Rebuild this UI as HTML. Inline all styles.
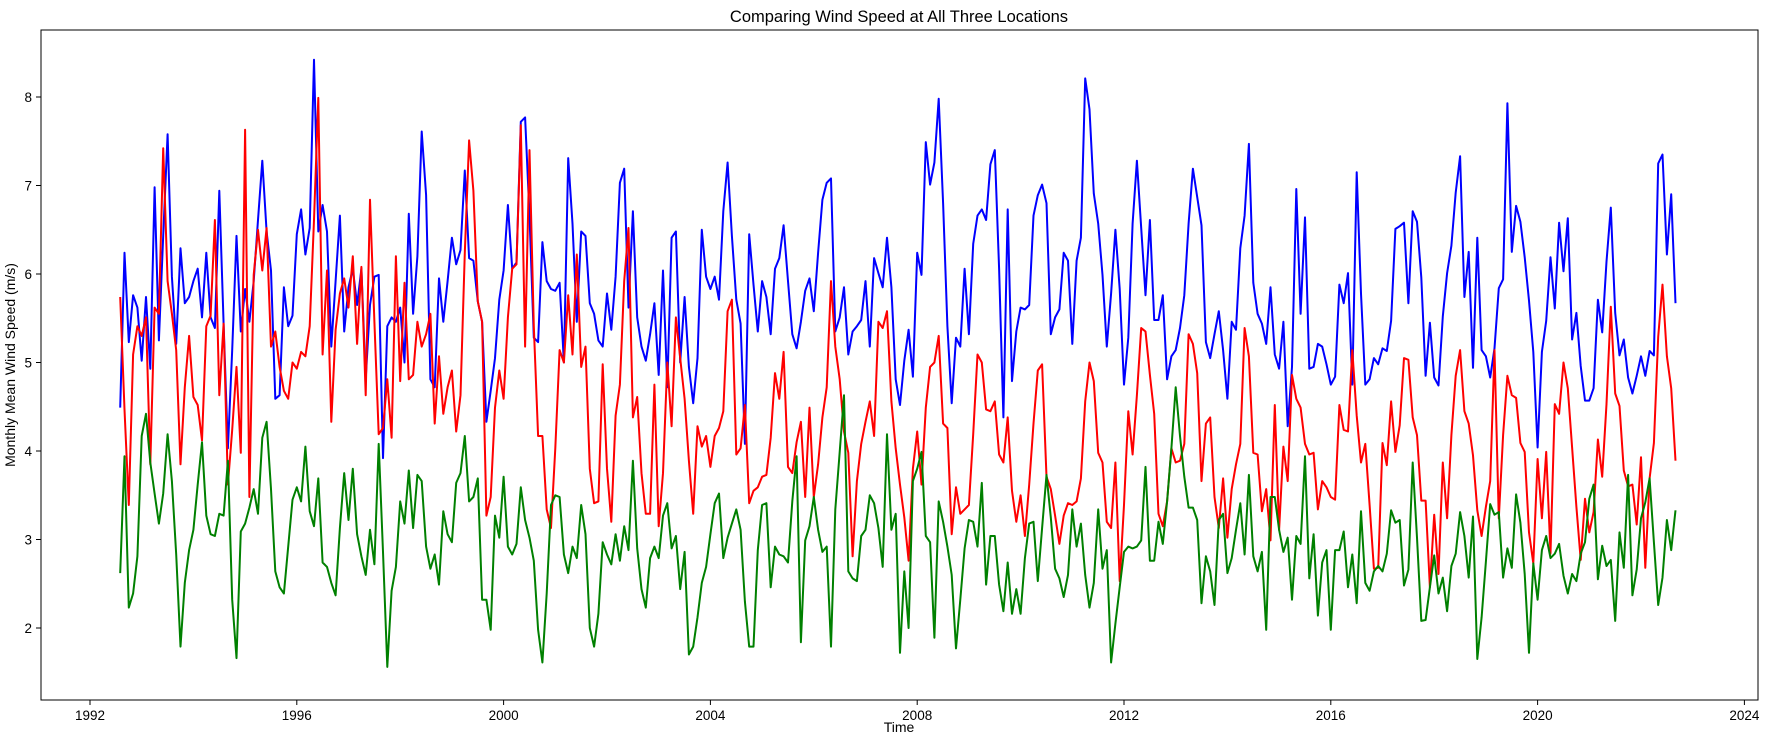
<!DOCTYPE html>
<html><head><meta charset="utf-8"><style>
html,body{margin:0;padding:0;background:#fff;}
svg{display:block;font-family:"Liberation Sans","DejaVu Sans",sans-serif;}
</style></head><body>
<svg id="chart" width="1774" height="743" viewBox="0 0 1774 743" xmlns="http://www.w3.org/2000/svg">
<rect x="0" y="0" width="1774" height="743" fill="#fff"/>
<text x="899" y="22" text-anchor="middle" font-size="16.5" fill="#000">Comparing Wind Speed at All Three Locations</text>
<text x="899" y="732" text-anchor="middle" font-size="14" fill="#000">Time</text>
<text transform="translate(15,365) rotate(-90)" text-anchor="middle" font-size="14" fill="#000">Monthly Mean Wind Speed (m/s)</text>
<g id="xticks"></g>
<g id="yticks"></g>
<g id="series"></g>
<rect x="41" y="30" width="1717" height="670" fill="none" stroke="#000" stroke-width="1"/>
</svg>
<script>
const startYear = 1992 + 7/12;
const xTickLabels = [1992,1996,2000,2004,2008,2012,2016,2020,2024];
const yTickLabels = [2,3,4,5,6,7,8];
const blueValues = [4.49,6.24,5.23,5.76,5.62,5.02,5.74,4.93,6.98,5.25,6.43,7.58,5.97,5.21,6.29,5.67,5.74,5.92,6.06,5.51,6.24,5.51,5.39,6.94,5.44,4.03,5.14,6.43,5.35,5.83,5.46,5.92,6.61,7.28,6.48,6.04,4.59,4.63,5.85,5.41,5.53,6.45,6.73,6.22,6.52,8.42,6.48,6.78,6.48,5.18,5.92,6.66,5.35,5.85,6.06,5.65,6.06,4.81,5.65,5.97,5.99,3.92,5.41,5.51,5.46,5.62,5.00,6.68,5.55,6.20,7.61,6.89,4.81,
4.72,5.95,5.46,5.92,6.41,6.11,6.27,7.17,6.18,6.15,5.69,5.46,4.33,4.68,5.05,5.71,6.04,6.78,6.06,6.13,7.72,7.77,6.66,5.28,5.23,6.36,5.92,5.83,5.81,5.90,5.00,7.31,6.57,5.46,6.48,6.43,5.67,5.55,5.25,5.18,5.78,5.37,5.97,7.03,7.19,5.62,6.71,5.51,5.18,5.02,5.32,5.67,4.86,6.04,4.72,6.41,6.48,5.00,5.74,4.95,4.54,5.05,6.50,5.97,5.83,5.97,5.71,6.71,7.26,6.43,5.71,5.44,4.08,6.45,
5.88,5.35,5.92,5.74,5.32,6.06,6.18,6.55,5.92,5.32,5.16,5.46,5.81,5.95,5.58,6.24,6.84,7.03,7.08,5.35,5.51,5.85,5.09,5.35,5.41,5.48,5.92,5.18,6.18,6.01,5.85,6.41,5.85,4.81,4.52,5.02,5.37,4.84,6.24,5.99,7.49,7.01,7.26,7.98,6.80,5.41,4.54,5.28,5.18,6.06,5.32,6.34,6.66,6.73,6.61,7.24,7.40,6.06,4.38,6.73,4.79,5.35,5.62,5.60,5.65,6.66,6.89,7.01,6.80,5.32,5.51,5.60,6.24,6.15,5.21,6.15,
6.41,8.21,7.86,6.91,6.57,5.99,5.18,5.78,6.50,5.83,4.75,5.28,6.57,7.28,6.52,5.76,6.61,5.48,5.48,5.76,4.81,5.07,5.14,5.39,5.76,6.57,7.19,6.87,6.55,5.23,5.05,5.32,5.58,5.14,4.59,5.46,5.37,6.29,6.66,7.47,5.90,5.55,5.44,5.21,5.85,5.09,4.93,5.46,4.28,4.95,6.96,5.55,6.64,4.93,4.95,5.21,5.18,4.98,4.75,4.84,5.88,5.67,6.01,4.75,7.15,5.78,4.75,4.81,5.05,
4.98,5.16,5.13,5.47,6.51,6.54,6.58,5.67,6.71,6.59,5.96,4.85,5.45,4.83,4.74,5.52,6.01,6.32,6.92,7.33,5.74,6.25,4.94,6.41,5.14,5.07,4.83,5.16,5.84,5.94,7.93,6.25,6.77,6.59,6.19,5.70,5.12,4.04,5.12,5.47,6.19,5.61,6.58,6.03,6.63,5.26,5.56,4.96,4.57,4.57,4.71,5.71,5.34,6.14,6.75,5.56,5.08,5.26,4.83,4.65,4.85,5.07,4.85,5.13,5.08,7.25,7.35,6.22,6.90,5.67];
const redValues = [5.74,4.47,3.39,5.09,5.41,5.30,5.51,3.85,5.62,5.55,7.42,5.92,5.55,5.14,3.85,4.72,5.30,4.61,4.52,4.12,5.41,5.53,6.61,4.63,5.44,3.62,4.24,4.95,3.98,7.63,3.48,5.99,6.50,6.04,6.52,5.18,5.35,4.95,4.68,4.59,5.00,4.93,5.12,5.07,5.41,6.61,7.99,5.09,6.04,4.33,5.37,5.78,5.95,5.62,6.20,5.21,6.08,4.63,6.84,5.46,4.19,4.26,4.81,4.15,6.20,4.79,5.90,4.81,4.86,5.46,5.18,5.32,5.55,
4.31,5.07,4.42,4.72,4.91,4.22,4.63,6.24,7.51,6.94,5.69,5.46,3.27,3.48,4.49,4.91,4.59,5.51,6.06,6.11,7.68,5.18,7.40,5.41,4.17,4.17,3.34,3.13,4.03,5.14,5.00,5.76,5.09,6.22,4.95,5.18,3.80,3.41,3.43,4.98,3.80,3.20,4.40,4.75,5.92,6.52,4.38,4.61,3.75,3.29,3.29,4.75,3.15,3.75,5.00,4.28,5.51,5.05,4.59,3.89,3.29,4.28,4.05,4.17,3.82,4.17,4.26,4.45,5.58,5.71,3.96,4.03,4.52,3.41,
3.55,3.59,3.71,3.73,4.15,4.88,4.59,5.12,3.82,3.75,4.10,4.33,3.48,4.49,3.48,3.85,4.38,4.72,5.92,5.18,4.81,4.22,3.98,2.81,3.66,4.08,4.33,4.56,4.17,5.46,5.39,5.58,4.56,4.03,3.62,3.25,2.76,3.80,4.22,3.62,4.49,4.95,5.00,5.30,4.31,4.26,3.06,3.59,3.29,3.34,3.39,4.19,5.09,5.00,4.47,4.45,4.56,3.96,3.87,4.38,3.55,3.20,3.50,3.04,3.62,4.31,4.91,4.98,3.71,3.57,3.27,2.95,3.27,3.41,3.39,3.43,
3.69,4.56,5.00,4.79,3.98,3.87,3.20,3.13,3.87,2.53,3.39,4.45,3.96,4.63,5.39,5.35,4.86,4.42,3.29,3.15,3.43,4.03,3.87,3.89,4.08,5.32,5.21,4.88,3.66,4.31,4.38,3.48,3.13,3.69,3.02,3.57,3.85,4.08,5.39,5.07,3.98,3.96,3.32,3.57,2.99,4.52,3.11,4.05,3.66,4.86,4.59,4.49,4.08,3.96,3.98,3.34,3.66,3.59,3.48,3.45,4.52,4.24,4.22,5.14,4.40,3.87,4.08,3.39,2.67,
2.68,4.09,3.84,4.56,3.99,4.29,5.05,5.03,4.38,4.18,3.44,3.44,2.46,3.28,2.61,3.87,3.24,4.18,4.85,5.14,4.45,4.31,3.95,3.33,3.04,3.37,3.66,5.14,3.24,4.18,4.85,4.63,4.60,4.09,3.99,3.08,2.73,3.91,3.24,3.99,2.84,4.53,4.42,5.00,4.71,4.04,3.37,2.77,3.46,3.08,3.31,4.13,3.71,4.53,5.63,4.65,4.51,3.78,3.60,3.62,3.17,3.93,2.68,3.69,4.09,5.29,5.88,5.07,4.71,3.89];
const greenValues = [2.62,3.94,2.23,2.39,2.81,4.17,4.42,3.87,3.52,3.18,3.52,4.19,3.66,2.83,1.79,2.51,2.88,3.11,3.62,4.10,3.27,3.06,3.04,3.29,3.27,3.89,2.32,1.66,3.09,3.18,3.36,3.57,3.29,4.15,4.33,3.57,2.64,2.46,2.39,2.92,3.45,3.59,3.43,4.05,3.32,3.15,3.69,2.74,2.69,2.51,2.37,3.13,3.75,3.22,3.80,3.06,2.81,2.60,3.11,2.72,4.08,2.86,1.56,2.42,2.69,3.43,3.18,3.78,3.13,3.73,3.66,2.92,2.67,
2.83,2.49,3.32,3.06,2.97,3.64,3.75,4.17,3.43,3.48,3.69,2.32,2.32,1.98,3.27,3.02,3.71,2.92,2.83,2.95,3.59,3.22,3.02,2.76,1.98,1.61,2.39,3.39,3.50,3.48,2.83,2.62,2.92,2.79,3.39,3.06,2.00,1.79,2.16,2.97,2.83,2.72,3.06,2.76,3.15,2.88,3.89,2.90,2.44,2.23,2.79,2.92,2.79,3.27,3.41,2.90,3.04,2.44,2.86,1.70,1.79,2.12,2.51,2.69,3.06,3.41,3.52,2.79,3.02,3.18,3.34,3.11,2.30,1.79,
1.79,2.88,3.39,3.41,2.46,2.92,2.83,2.81,2.74,3.43,3.94,1.84,2.99,3.15,3.48,3.11,2.86,2.92,1.79,3.34,3.99,4.63,2.64,2.56,2.53,3.04,3.11,3.50,3.41,3.13,2.69,4.19,3.11,3.29,1.72,2.64,2.00,3.66,3.80,3.99,3.04,2.97,1.89,3.43,3.20,2.92,2.60,1.77,2.32,2.90,3.22,3.20,2.92,3.64,2.49,3.04,3.04,2.49,2.19,2.74,2.16,2.44,2.16,2.79,3.18,3.20,2.53,3.13,3.73,3.25,2.67,2.56,2.35,2.60,3.34,2.92,
3.18,2.60,2.23,2.51,3.34,2.67,2.88,1.61,2.05,2.46,2.86,2.92,2.90,2.92,2.99,3.82,2.76,2.76,3.20,2.95,3.43,4.03,4.72,4.17,3.71,3.36,3.36,3.22,2.28,2.81,2.64,2.26,3.22,3.29,2.62,2.79,3.11,3.41,2.83,3.73,2.81,2.64,2.86,1.98,3.48,3.48,3.11,2.86,3.02,2.32,3.04,2.95,3.94,2.56,3.06,2.14,2.74,2.88,1.98,2.88,2.88,3.09,2.46,2.83,2.28,3.32,2.51,2.42,2.64,
2.70,2.64,2.84,3.33,3.19,3.22,2.48,2.66,3.87,3.02,2.08,2.09,2.46,2.82,2.39,2.57,2.19,2.70,2.84,3.31,3.04,2.57,3.26,1.65,2.12,2.75,3.40,3.28,3.31,2.57,2.90,2.68,3.51,3.19,2.61,1.72,2.73,2.32,2.88,3.04,2.79,2.84,2.95,2.59,2.39,2.61,2.53,2.84,2.97,3.46,3.62,2.55,2.93,2.70,2.77,2.08,3.08,2.68,3.73,2.37,2.66,3.24,3.42,3.69,2.97,2.26,2.57,3.22,2.88,3.33];

const NS = 'http://www.w3.org/2000/svg';
const PL = 41, PR = 1758, PT = 30, PB = 700;
function xScale(t){ return 90 + (t - 1992) * 51.7; }
function yScale(v){ return 628 - (v - 2) * 88.5; }

const xg = document.getElementById('xticks');
xTickLabels.forEach(function(yr){
  const x = xScale(yr);
  const ln = document.createElementNS(NS,'line');
  ln.setAttribute('x1',x); ln.setAttribute('x2',x); ln.setAttribute('y1',PB); ln.setAttribute('y2',PB+5);
  ln.setAttribute('stroke','#000'); ln.setAttribute('stroke-width','1');
  
  
  xg.appendChild(ln);
  const tx = document.createElementNS(NS,'text');
  tx.setAttribute('x',x); tx.setAttribute('y',PB+20); tx.setAttribute('text-anchor','middle');
  tx.setAttribute('font-size','13.5'); tx.textContent = yr;
  
  
  xg.appendChild(tx);
});
const yg = document.getElementById('yticks');
yTickLabels.forEach(function(v){
  const y = yScale(v);
  const ln = document.createElementNS(NS,'line');
  ln.setAttribute('x1',PL-5); ln.setAttribute('x2',PL); ln.setAttribute('y1',y); ln.setAttribute('y2',y);
  ln.setAttribute('stroke','#000'); ln.setAttribute('stroke-width','1');
  
  
  yg.appendChild(ln);
  const tx = document.createElementNS(NS,'text');
  tx.setAttribute('x',PL-9); tx.setAttribute('y',y+5); tx.setAttribute('text-anchor','end');
  tx.setAttribute('font-size','13.5'); tx.textContent = v;
  
  
  yg.appendChild(tx);
});
const sg = document.getElementById('series');
function drawSeries(vals, color, name){
  const pts = vals.map(function(v,i){ return xScale(startYear + i/12).toFixed(1)+','+yScale(v).toFixed(1); }).join(' ');
  const pl = document.createElementNS(NS,'polyline');
  pl.setAttribute('points',pts); pl.setAttribute('fill','none');
  pl.setAttribute('stroke',color); pl.setAttribute('stroke-width','2'); pl.setAttribute('stroke-linejoin','round');
  
  
  sg.appendChild(pl);
}
drawSeries(blueValues,'#0000ff','blue-series-line');
drawSeries(redValues,'#ff0000','red-series-line');
drawSeries(greenValues,'#008000','green-series-line');
</script>
</body></html>
